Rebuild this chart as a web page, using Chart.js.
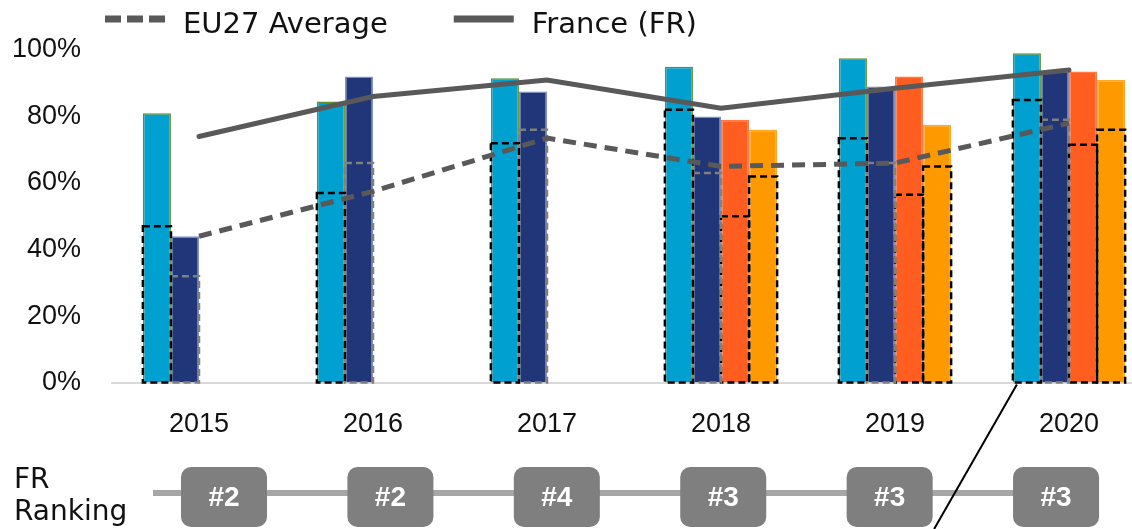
<!DOCTYPE html>
<html>
<head>
<meta charset="utf-8">
<script src="https://cdn.jsdelivr.net/npm/chart.js@4.4.0/dist/chart.umd.min.js"></script>
<style>
  html, body { margin: 0; padding: 0; background: #fff; overflow: hidden; }
  #wrap { position: relative; width: 1156px; height: 529px; }
</style>
</head>
<body>
<div id="wrap"><canvas id="chart"></canvas></div>
<script>
// years on the x axis
const years = ["2015", "2016", "2017", "2018", "2019", "2020"];
const yTicks = [0, 20, 40, 60, 80, 100];

// France values per indicator (bars)
const frBlue   = [81, 84.5, 91.5, 95, 97.5, 99];
const frNavy   = [44, 92, 87.5, 80, 89, 93.5];
const frRed    = [null, null, null, 79, 92, 93.5];
const frOrange = [null, null, null, 76, 77.5, 91];

// EU27 values per indicator (dashed outlines)
const euBlue   = [47, 57, 72, 82, 73.5, 85];
const euNavy   = [32, 66, 76, 63, 66, 79];
const euRed    = [null, null, null, 50, 56.5, 71.5];
const euOrange = [null, null, null, 62, 65, 76];

// averages (lines)
const franceAvg = [74, 86, 91, 82.5, 88.5, 94];
const eu27Avg   = [44, 57.5, 73.5, 65, 66, 78];

// FR ranking per year
const rankings = [2, 2, 4, 3, 3, 3];

const GREY = "#595959";

// FR bar and its EU27 outline share the same slot through "stack"
function barSet(label, data, stack, color, border) {
    return {
        type: "bar", label: label, data: data, stack: stack, order: 2,
        backgroundColor: color, borderColor: border,
        borderWidth: { top: 1.5, left: 1.5, right: 1.5, bottom: 0 },
        borderSkipped: false,
        categoryPercentage: 0.645, barPercentage: 1
    };
}

function dashSet(label, data, stack, dashColor) {
    return {
        type: "bar", label: label, data: data, stack: stack, order: 1,
        backgroundColor: "rgba(0,0,0,0)", borderWidth: 0,
        dashColor: dashColor,
        categoryPercentage: 0.645, barPercentage: 1
    };
}

const overlay = {
    id: "overlay",
    afterDatasetDraw(chart, args) {
        const ds = chart.data.datasets[args.index];
        if (!ds.dashColor) return;
        const ctx = chart.ctx;
        ctx.save();
        ctx.strokeStyle = ds.dashColor;
        ctx.lineWidth = 2.5;
        ctx.setLineDash([7, 4]);
        args.meta.data.forEach(function (bar, i) {
            if (ds.data[i] == null) return;
            ctx.strokeRect(bar.x - bar.width / 2, bar.y, bar.width, bar.base - bar.y);
        });
        ctx.restore();
    },
    afterDraw(chart) {
        const ctx = chart.ctx;
        const area = chart.chartArea;
        ctx.save();

        // legend for the two lines
        let lx = 105;
        chart.data.datasets.forEach(function (ds) {
            if (ds.type !== "line") return;
            ctx.strokeStyle = ds.borderColor;
            ctx.lineWidth = 7;
            ctx.lineCap = "butt";
            ctx.setLineDash(ds.borderDash ? [16, 6] : []);
            ctx.beginPath();
            ctx.moveTo(lx, 19);
            ctx.lineTo(lx + 60, 19);
            ctx.stroke();
            ctx.setLineDash([]);
            ctx.fillStyle = "#111";
            ctx.font = "29px 'DejaVu Sans'";
            ctx.textBaseline = "alphabetic";
            ctx.textAlign = "left";
            ctx.fillText(ds.label, lx + 78, 33);
            lx += 78 + ctx.measureText(ds.label).width + 66;
        });

        // ranking row
        ctx.fillStyle = "#111";
        ctx.font = "28px 'DejaVu Sans'";
        ctx.fillText("FR", 14, 488);
        ctx.fillText("Ranking", 14, 520);

        const step = (area.right - area.left) * 0.1594;
        const first = area.left + 112;
        const boxW = 86, boxTop = 467, boxH = 60;
        ctx.strokeStyle = "#a6a6a6";
        ctx.lineWidth = 6;
        ctx.beginPath();
        ctx.moveTo(153, 493);
        ctx.lineTo(first + step * (rankings.length - 1), 493);
        ctx.stroke();

        rankings.forEach(function (r, i) {
            const cx = first + step * i;
            ctx.fillStyle = "#7f7f7f";
            ctx.beginPath();
            ctx.roundRect(cx - boxW / 2, boxTop, boxW, boxH, 10);
            ctx.fill();
            ctx.fillStyle = "#fff";
            ctx.font = "bold 28px 'Liberation Sans'";
            ctx.textAlign = "center";
            ctx.textBaseline = "middle";
            ctx.fillText("#" + r, cx, boxTop + boxH / 2 + 1);
        });

        // pointer line from the 2020 bar
        const bar = chart.getDatasetMeta(0).data[years.length - 1];
        const x0 = bar.x - bar.width / 2 + 4, y0 = bar.base + 2;
        const y1 = chart.height;
        ctx.strokeStyle = "#000";
        ctx.lineWidth = 2;
        ctx.beginPath();
        ctx.moveTo(x0, y0);
        ctx.lineTo(x0 - (y1 - y0) * 0.573, y1);
        ctx.stroke();

        ctx.restore();
    }
};

new Chart(document.getElementById("chart"), {
    data: {
        labels: years,
        datasets: [
            barSet("Indicator 1", frBlue, "s1", "#00a0d0", "#5b8f2e"),
            barSet("Indicator 2", frNavy, "s2", "#213579", "#7f8fbf"),
            barSet("Indicator 3", frRed, "s3", "#ff5e20", "#ff7a45"),
            barSet("Indicator 4", frOrange, "s4", "#ff9900", "#ffa826"),
            dashSet("EU27 Indicator 1", euBlue, "s1", "#000"),
            dashSet("EU27 Indicator 2", euNavy, "s2", "#808080"),
            dashSet("EU27 Indicator 3", euRed, "s3", "#000"),
            dashSet("EU27 Indicator 4", euOrange, "s4", "#000"),
            {
                type: "line", label: "EU27 Average", data: eu27Avg, order: 0,
                borderColor: GREY, borderWidth: 5, borderDash: [13, 8],
                pointRadius: 0, tension: 0, fill: false
            },
            {
                type: "line", label: "France (FR)", data: franceAvg, order: 0,
                borderColor: GREY, borderWidth: 5, borderCapStyle: "round",
                pointRadius: 0, tension: 0, fill: false
            }
        ]
    },
    options: {
        responsive: true,
        maintainAspectRatio: false,
        animation: false,
        layout: { padding: { top: 50, left: 12, right: 0, bottom: 62 } },
        plugins: { legend: { display: false }, tooltip: { enabled: false } },
        scales: {
            x: {
                offset: true,
                grid: { display: false, drawTicks: false },
                border: { display: true, color: "#d9d9d9", width: 2 },
                ticks: { color: "#111", padding: 26, font: { family: "'Liberation Sans'", size: 27 } }
            },
            y: {
                min: 0, max: 100, stacked: false,
                afterBuildTicks: function (scale) { scale.ticks = yTicks.map(function (v) { return { value: v }; }); },
                afterFit: function (scale) { scale.width = 100; },
                grid: { display: false, drawTicks: false },
                border: { display: false },
                ticks: {
                    color: "#111", padding: 31,
                    font: { family: "'Liberation Sans'", size: 27 },
                    callback: function (v) { return v + "%"; }
                }
            }
        }
    },
    plugins: [overlay]
});
</script>
</body>
</html>
